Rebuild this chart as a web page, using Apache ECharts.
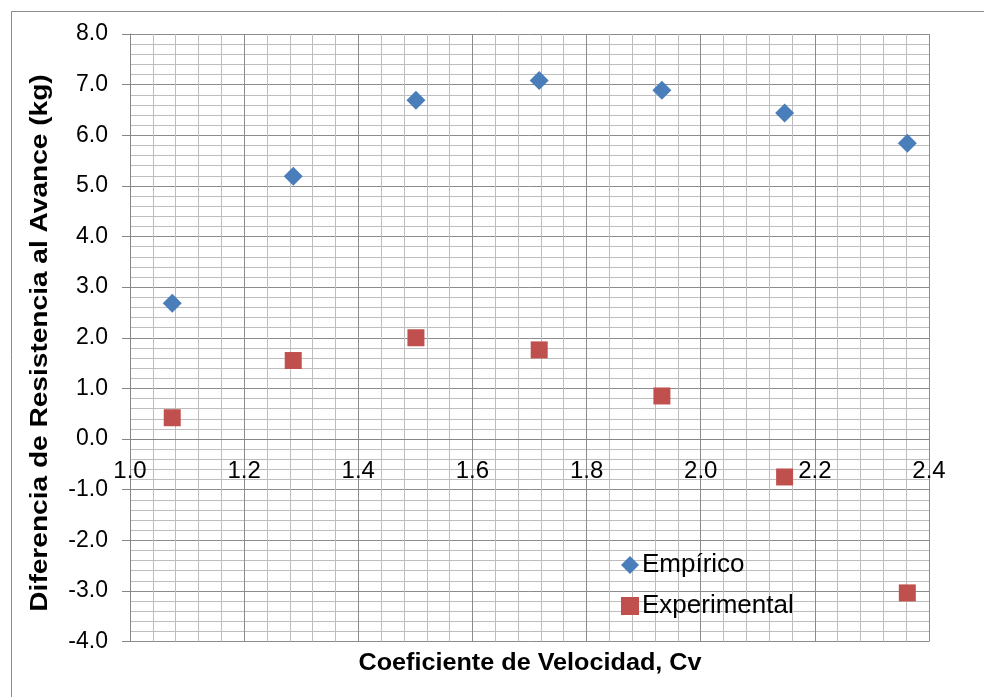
<!DOCTYPE html>
<html>
<head>
<meta charset="utf-8">
<script src="https://cdn.jsdelivr.net/npm/echarts@6/dist/echarts.min.js"></script>
<style>html,body{margin:0;padding:0;background:#fff}#c{width:984px;height:697px}</style>
</head>
<body>
<div id="c"></div>
<script>
var cvValues = [1.074, 1.286, 1.501, 1.717, 1.932, 2.147, 2.362];
var empirico = [2.68, 5.19, 6.69, 7.08, 6.89, 6.44, 5.84];
var experimental = [0.42, 1.55, 2.00, 1.76, 0.85, -0.75, -3.04];
var seriesNames = ['Empírico', 'Experimental'];
var xTitle = 'Coeficiente de Velocidad, Cv';
var yTitle = 'Diferencia de Resistencia al Avance (kg)';

function pairs(xs, ys) { return xs.map(function (x, i) { return [x, ys[i]]; }); }

var chart = echarts.init(document.getElementById('c'));
var font = 'Liberation Sans, Arial, sans-serif';
var gridTop = 34, gridBottom = 55.5, H = 697;
var yMin = -4, yMax = 8;
var plotH = H - gridTop - gridBottom;
var zeroOffset = -plotH * (0 - yMin) / (yMax - yMin);

chart.setOption({
  animation: false,
  backgroundColor: '#fff',
  grid: { left: 130, right: 55, top: gridTop, bottom: gridBottom, containLabel: false },
  xAxis: {
    type: 'value', min: 1.0, max: 2.4, interval: 0.2,
    position: 'bottom', offset: zeroOffset,
    axisLine: { show: true, onZero: false, lineStyle: { color: '#868686', width: 1 } },
    axisTick: { show: false },
    axisLabel: { margin: 20, fontSize: 24, color: '#000', fontFamily: font,
      formatter: function (v) { return v.toFixed(1); } },
    splitLine: { show: true, lineStyle: { color: '#8c8c8c', width: 1 } },
    minorTick: { show: false, splitNumber: 5 },
    minorSplitLine: { show: true, lineStyle: { color: '#bdbdbd', width: 1 } }
  },
  yAxis: {
    type: 'value', min: yMin, max: yMax, interval: 1,
    axisLine: { show: true, onZero: false, lineStyle: { color: '#868686', width: 1 } },
    axisTick: { show: true, length: 8, inside: false, lineStyle: { color: '#868686' } },
    axisLabel: { margin: 22, fontSize: 23, color: '#000', fontFamily: font,
      formatter: function (v) { return v.toFixed(1); } },
    splitLine: { show: true, lineStyle: { color: '#8c8c8c', width: 1 } },
    minorTick: { show: false, splitNumber: 5 },
    minorSplitLine: { show: true, lineStyle: { color: '#bdbdbd', width: 1 } }
  },
  legend: {
    orient: 'vertical', left: 616, top: 547, itemGap: 15,
    itemWidth: 18, itemHeight: 18, itemStyle: { borderWidth: 0 },
    textStyle: { fontSize: 26, color: '#000', fontFamily: font, padding: [0, 0, 0, -2] },
    data: [
      { name: seriesNames[0], icon: 'diamond' },
      { name: seriesNames[1], icon: 'rect' }
    ]
  },
  graphic: [
    { type: 'rect', left: 9, top: 9, silent: true,
      shape: { x: 0.5, y: 0.5, width: 1200, height: 1200 },
      style: { fill: 'none', stroke: '#8c8c8c', lineWidth: 1 } },
    { type: 'text', x: 530, y: 663, scaleX: 1.05, silent: true,
      style: { text: xTitle, fill: '#000', font: 'bold 24px ' + font, align: 'center', verticalAlign: 'middle' } },
    { type: 'text', x: 40, y: 343, rotation: Math.PI / 2, scaleX: 1.17, silent: true,
      style: { text: yTitle, fill: '#000', font: 'bold 24px ' + font, align: 'center', verticalAlign: 'middle' } }
  ],
  series: [
    { name: seriesNames[0], type: 'scatter', symbol: 'diamond', symbolSize: 19,
      itemStyle: { color: '#4A7EBB', opacity: 1 }, data: pairs(cvValues, empirico) },
    { name: seriesNames[1], type: 'scatter', symbol: 'rect', symbolSize: 17,
      itemStyle: { color: '#C0504D', opacity: 1 }, data: pairs(cvValues, experimental) }
  ]
});
</script>
</body>
</html>
